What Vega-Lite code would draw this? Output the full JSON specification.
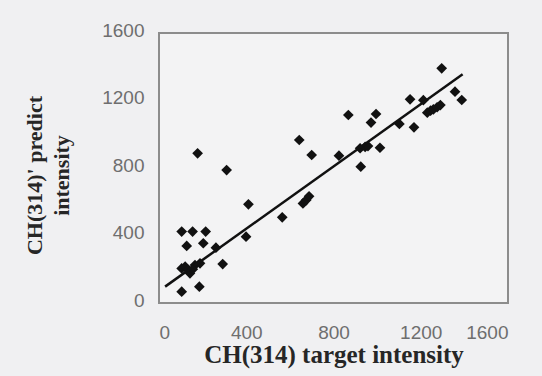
{
  "$schema": "https://vega.github.io/schema/vega-lite/v6.json",
  "width": 349,
  "height": 270,
  "autosize": {"type": "none"},
  "padding": {"left": 159, "top": 33, "right": 34, "bottom": 73},
  "background": "#f0f0f2",
  "config": {
    "view": {"stroke": "#8c8c8c", "strokeWidth": 2, "fill": "#f3f3f4"},
    "axis": {
      "grid": false, "ticks": false, "domain": false,
      "labelFont": "Liberation Sans", "labelFontSize": 19, "labelColor": "#6e6e6e",
      "titleFont": "Liberation Serif", "titleFontWeight": "bold", "titleColor": "#262626"
    }
  },
  "layer": [
    {
      "data": {"values": [
        {"target": 1296, "predict": 1391}, {"target": 1357, "predict": 1252}, {"target": 1388, "predict": 1203},
        {"target": 1151, "predict": 1207}, {"target": 1212, "predict": 1202}, {"target": 1230, "predict": 1128},
        {"target": 1245, "predict": 1140}, {"target": 1258, "predict": 1148}, {"target": 1275, "predict": 1160},
        {"target": 1290, "predict": 1173}, {"target": 1169, "predict": 1041}, {"target": 1102, "predict": 1061},
        {"target": 995, "predict": 1120}, {"target": 972, "predict": 1069}, {"target": 868, "predict": 1114},
        {"target": 1013, "predict": 920}, {"target": 922, "predict": 917}, {"target": 945, "predict": 925},
        {"target": 958, "predict": 930}, {"target": 925, "predict": 808}, {"target": 825, "predict": 873},
        {"target": 700, "predict": 877}, {"target": 643, "predict": 966}, {"target": 660, "predict": 590},
        {"target": 675, "predict": 610}, {"target": 688, "predict": 632}, {"target": 565, "predict": 508},
        {"target": 410, "predict": 585}, {"target": 399, "predict": 393}, {"target": 310, "predict": 788},
        {"target": 177, "predict": 887}, {"target": 292, "predict": 231}, {"target": 261, "predict": 328},
        {"target": 104, "predict": 423}, {"target": 154, "predict": 423}, {"target": 214, "predict": 423},
        {"target": 127, "predict": 338}, {"target": 203, "predict": 354}, {"target": 104, "predict": 205},
        {"target": 120, "predict": 215}, {"target": 134, "predict": 196}, {"target": 142, "predict": 176},
        {"target": 165, "predict": 225}, {"target": 188, "predict": 235}, {"target": 155, "predict": 200},
        {"target": 104, "predict": 67}, {"target": 185, "predict": 97}
      ]},
      "mark": {"type": "point", "shape": "diamond", "filled": true, "size": 115, "color": "#111111", "opacity": 1},
      "encoding": {
        "x": {"field": "target", "type": "quantitative",
          "scale": {"domain": [0, 1600], "nice": false},
          "axis": {"values": [0, 400, 800, 1200, 1600], "format": "d", "labelPadding": 20,
            "title": "CH(314) target intensity", "titleFontSize": 25,
            "titleBaseline": "alphabetic", "titleY": 59}},
        "y": {"field": "predict", "type": "quantitative",
          "scale": {"domain": [0, 1600], "nice": false},
          "axis": {"values": [0, 400, 800, 1200, 1600], "format": "d", "labelPadding": 15, "labelOffset": -3,
            "title": ["CH(314)' predict", "intensity"], "titleFontSize": 22,
            "titleLineHeight": 27, "titleAngle": -90, "titleAlign": "center",
            "titleBaseline": "middle", "titleX": -125, "titleY": 142}}
      }
    },
    {
      "data": {"values": [{"x1": 28, "y1": 97, "x2": 1392, "y2": 1355}]},
      "mark": {"type": "rule", "color": "#111111", "strokeWidth": 2.5},
      "encoding": {
        "x": {"field": "x1", "type": "quantitative"},
        "y": {"field": "y1", "type": "quantitative"},
        "x2": {"field": "x2"},
        "y2": {"field": "y2"}
      }
    }
  ]
}
